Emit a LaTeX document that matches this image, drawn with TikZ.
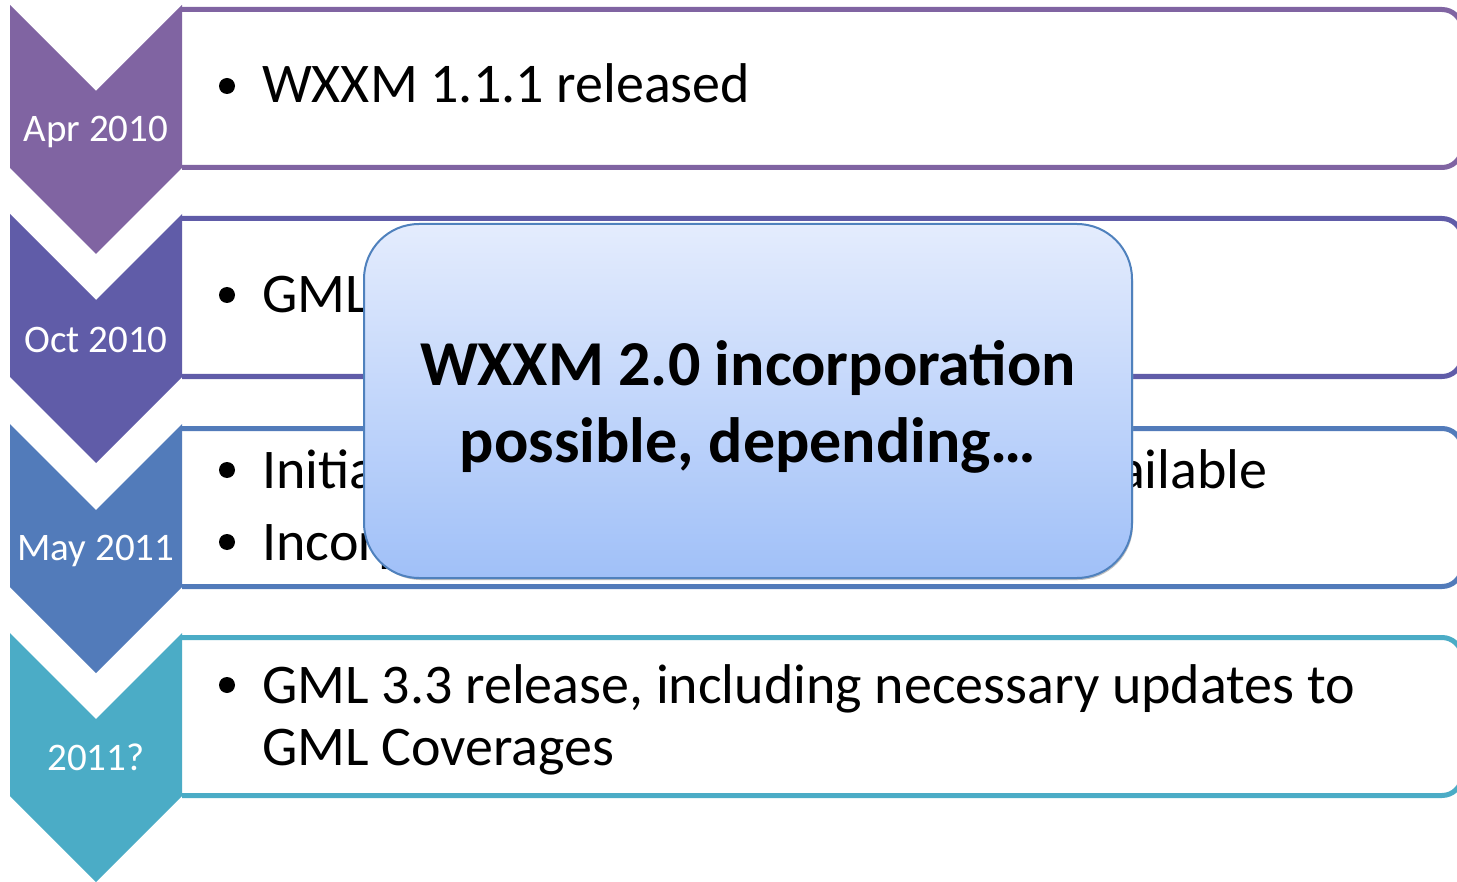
\documentclass[tikz,border=0pt]{standalone}
\usepackage{fontspec}
\setmainfont{Carlito}
\definecolor{stepColor1}{RGB}{128,100,162}
\definecolor{stepColor2}{RGB}{96,92,168}
\definecolor{stepColor3}{RGB}{82,123,186}
\definecolor{stepColor4}{RGB}{75,172,198}
\definecolor{calloutTop}{RGB}{228,236,253}
\definecolor{calloutBottom}{RGB}{160,192,248}
\definecolor{calloutBorder}{RGB}{79,129,189}
\tikzset{
  stepbox/.style={line width=2.5pt, fill=white, rounded corners=10pt},
  datelabel/.style={anchor=base, text=white, inner sep=0pt, font=\fontsize{19.5}{23}\selectfont},
  itemtext/.style={anchor=base west, inner sep=0pt, font=\fontsize{28}{34}\selectfont},
  bulletdot/.style={circle, fill=black, inner sep=0pt, minimum size=8pt},
  callout/.style={draw=calloutBorder, line width=1pt, rounded corners=27.5pt,
    top color=calloutTop, bottom color=calloutBottom, align=center,
    minimum width=384pt, minimum height=177pt, inner sep=0pt,
    font=\bfseries\fontsize{32}{38.5}\selectfont}
}
\begin{document}
\begin{tikzpicture}[x=0.5pt,y=-0.5pt]
				\useasboundingbox (0,0) rectangle (1457,882);
				\clip (0,0) rectangle (1457,882);
				% boxes
				\filldraw[stepbox, draw=stepColor1] (182,9.5) -- (1462,9.5) -- (1462,167.5) -- (182,167.5);
				\filldraw[stepbox, draw=stepColor2] (182,218.5) -- (1462,218.5) -- (1462,376.5) -- (182,376.5);
				\filldraw[stepbox, draw=stepColor3] (182,428.5) -- (1462,428.5) -- (1462,586.5) -- (182,586.5);
				\filldraw[stepbox, draw=stepColor4] (182,637.5) -- (1462,637.5) -- (1462,795.5) -- (182,795.5);
				% chevrons
				\fill[stepColor1] (10,5) -- ++(86,86) -- ++(86,-86) -- ++(0,163) -- ++(-86,86) -- ++(-86,-86) -- cycle;
				\fill[stepColor2] (10,214) -- ++(86,86) -- ++(86,-86) -- ++(0,163) -- ++(-86,86) -- ++(-86,-86) -- cycle;
				\fill[stepColor3] (10,424) -- ++(86,86) -- ++(86,-86) -- ++(0,163) -- ++(-86,86) -- ++(-86,-86) -- cycle;
				\fill[stepColor4] (10,633) -- ++(86,86) -- ++(86,-86) -- ++(0,163) -- ++(-86,86) -- ++(-86,-86) -- cycle;
				\node[datelabel] (date1) at (96,142) {Apr 2010};
				\node[datelabel] (date2) at (96,352) {Oct 2010};
				\node[datelabel] (date3) at (96,560) {May 2011};
				\node[datelabel] (date4) at (96,770) {2011?};
				% items
				\node[bulletdot] (dot1) at (227,86) {};
				\node[itemtext] (item1) at (262,103) {WXXM 1.1.1 released};
				\node[bulletdot] (dot2) at (227,295) {};
				\node[itemtext] (item2) at (262,313) {GML};
				\node[bulletdot] (dot3) at (227,470) {};
				\node[itemtext] (item3) at (262,488) {Initia};
				\node[itemtext, anchor=base east] (item3b) at (1268,488) {ailable};
				\node[bulletdot] (dot4) at (227,542) {};
				\node[itemtext] (item4) at (262,560) {Incorp};
				\node[bulletdot] (dot5) at (227,685) {};
				\node[itemtext] (item5) at (262,703) {GML 3.3 release, including necessary updates to};
				\node[itemtext] (item5b) at (262,765) {GML Coverages};
				% callout
				\fill[black!25, rounded corners=27.5pt] (366,226) rectangle (1133,580);
				\node[callout] (note) at (748,401) {\rule{0pt}{28pt}WXXM 2.0 incorporation\\possible, depending…};
\end{tikzpicture}
\end{document}
